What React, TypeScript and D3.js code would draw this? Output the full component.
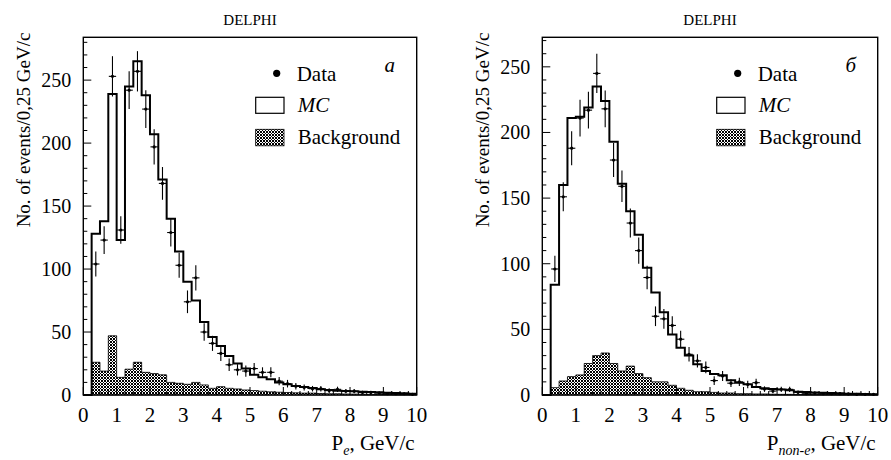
import React from "react";
import * as d3 from "d3";

// ---- data (40 bins of 0.25 GeV/c from 0 to 10) ----
const binWidth = 0.25;
const xTickLabels = ["0", "1", "2", "3", "4", "5", "6", "7", "8", "9", "10"];
const yTickLabels = ["0", "50", "100", "150", "200", "250"];

const leftMC = [0,128,138,239,123,245,265,238,207,171,140,114,90,75,58,46,39,31,25,21,16,14,12.5,10,8.5,7.2,6.3,5.6,4.5,4,3.4,3.2,2.9,2.6,2.4,2.1,1.8,1.5,1.3,1];
const leftBg = [0,26,19,47,14,20.5,26,18,17,16,10,9.3,8.5,10,8,5.3,6.6,5.3,4.8,4,3.5,3,2.5,2.2,2,1.7,1.5,1.5,1.2,1,1,0.8,0.7,0.6,0.5,0.5,0.4,0.3,0.3,0.2];
const leftData = [0,104,123,253,131,242,257,227,197,168,129,103,74,93,50,41,33,24,20,19,21,18,18,11,9,7,6,5,5,3.5,4.5,3,3,2,2,1.5,1,1,1,0.5];
const leftErr = [0,10,11,16,11,15,16,15,14,13,11,10,9,10,7,6,6,5,4.5,4.5,4.5,4,4,3.3,3,2.6,2.4,2.2,2.2,1.9,2.1,1.7,1.7,1.4,1.4,1.2,1,1,1,0.7];

const rightMC = [0,84,160,211,212,219,235,224,193,161,140,122,97,78,63,46,36,30,23.5,18.3,16,15,11.2,9.4,8.1,6.1,5.1,4.6,4.1,3.6,2.5,2.3,2,1.8,1.5,1.3,1,1,0.8,0.6];
const rightBg = [0,5.6,10.7,14,15.3,24,30,32,24,18.3,22,16.3,13.2,10,10,7.4,5.1,3.6,2.5,2.5,2,1.5,1.5,1,1,0.8,0.8,0.6,0.5,0.5,0.4,0.4,0.3,0.3,0.3,0.2,0.2,0.2,0.1,0.1];
const rightData = [0,96,151,188,211,217,245,218,179,159,131,110,89.5,60,58,53,42.5,31,26,21,11,14.5,9,10,8,9.4,4.5,3,4.3,4.3,2,1,1.5,1,1,1,0.8,0.5,0.5,0.5];
const rightErr = [0,10,11,13,14,14,15,14,13,12,11,10,9,7.5,7.5,7,6.5,5.5,5,4.5,3.3,3.8,3,3.2,2.8,3,2.1,1.7,2,2,1.4,1,1.2,1,1,1,0.9,0.7,0.7,0.7];

const FONT = "'Liberation Serif', 'Times New Roman', serif";

type PanelProps = {
  x0: number; x1: number; yTop: number; yBot: number; yMax: number;
  mc: number[]; bg: number[]; data: number[]; err: number[];
  tag: string; sub: string; id: string;
};

function Panel(p: PanelProps) {
  const x = d3.scaleLinear().domain([0, 10]).range([p.x0, p.x1]);
  const y = d3.scaleLinear().domain([0, p.yMax]).range([p.yBot, p.yTop]);

  const stepPts = (vals: number[]) => {
    const pts: [number, number][] = vals.map((v, i) => [i * binWidth, v]);
    pts.push([vals.length * binWidth, vals[vals.length - 1]]);
    return pts;
  };

  const line = d3.line<[number, number]>()
    .x(d => x(d[0])).y(d => y(d[1])).curve(d3.curveStepAfter);
  const area = d3.area<[number, number]>()
    .x(d => x(d[0])).y0(y(0)).y1(d => y(d[1])).curve(d3.curveStepAfter);

  const mcPath = line(stepPts(p.mc));
  const bgPath = area(stepPts(p.bg));

  const yMinor = d3.range(0, p.yMax, 10);
  const xMinor = d3.range(0, 10.001, 0.25);

  const legX = p.x1 - 161;
  const legT = p.x1 - 120;
  const cx = (p.x0 + p.x1) / 2;

  return (
    <g>
      <text x={cx} y={25} textAnchor="middle" fontFamily={FONT} fontSize={15}>DELPHI</text>
      {/* background hatched */}
      <path d={bgPath || ""} fill={`url(#hatch-${p.id})`} stroke="#000" strokeWidth={0.8} />
      {/* MC outline */}
      <path d={mcPath || ""} fill="none" stroke="#000" strokeWidth={2} />
      {/* data points */}
      {p.data.map((v, i) => {
        if (v <= 0) return null;
        const c = (i + 0.5) * binWidth;
        return (
          <g key={i} stroke="#000" strokeWidth={1.1}>
            <line x1={x(c)} x2={x(c)} y1={y(v - p.err[i])} y2={y(v + p.err[i])} />
            <line x1={x(c - 0.11)} x2={x(c + 0.11)} y1={y(v)} y2={y(v)} />
            <circle cx={x(c)} cy={y(v)} r={1.6} fill="#000" stroke="none" />
          </g>
        );
      })}
      {/* frame */}
      <rect x={p.x0} y={p.yTop} width={p.x1 - p.x0} height={p.yBot - p.yTop} fill="none" stroke="#000" strokeWidth={1.4} />
      {/* y ticks */}
      {yMinor.map(t => (
        <line key={"y" + t} x1={p.x0} x2={p.x0 + (t % 50 === 0 ? 8 : 4)} y1={y(t)} y2={y(t)} stroke="#000" strokeWidth={1} />
      ))}
      {yTickLabels.map(t => (
        <text key={"yl" + t} x={p.x0 - 12} y={y(+t)} dy="0.35em" textAnchor="end" fontFamily={FONT} fontSize={20}>{t}</text>
      ))}
      {/* x ticks */}
      {xMinor.map(t => (
        <line key={"x" + t} x1={x(t)} x2={x(t)} y1={p.yBot} y2={p.yBot - (Math.abs(t - Math.round(t)) < 1e-6 ? 8 : 4)} stroke="#000" strokeWidth={1} />
      ))}
      {xTickLabels.map(t => (
        <text key={"xl" + t} x={x(+t)} y={421.5} textAnchor="middle" fontFamily={FONT} fontSize={21}>{t}</text>
      ))}
      {/* axis titles */}
      <text transform={`translate(${p.x0 - 53},130) rotate(-90)`} textAnchor="middle" fontFamily={FONT} fontSize={19}>No. of events/0,25 GeV/c</text>
      <text x={p.x1 - 2} y={450} textAnchor="end" fontFamily={FONT} fontSize={21}>
        P<tspan fontSize={14} fontStyle="italic" dy={5}>{p.sub}</tspan><tspan dy={-5}>, GeV/c</tspan>
      </text>
      {/* legend */}
      <circle cx={legX + 21} cy={73.3} r={3.6} fill="#000" />
      <text x={legT} y={80.7} fontFamily={FONT} fontSize={21}>Data</text>
      <rect x={legX} y={97.3} width={28.3} height={16} fill="#fff" stroke="#000" strokeWidth={1.2} />
      <text x={legT + 1} y={112.3} fontFamily={FONT} fontSize={21} fontStyle="italic">MC</text>
      <rect x={legX} y={129.3} width={28.3} height={16.5} fill={`url(#hatch-${p.id})`} stroke="#000" strokeWidth={0.8} />
      <text x={legT + 1} y={144.3} fontFamily={FONT} fontSize={21}>Background</text>
      <text x={p.x1 - 27} y={71.7} textAnchor="middle" fontFamily={FONT} fontSize={21} fontStyle="italic">{p.tag}</text>
    </g>
  );
}

export default function App() {
  return (
    <svg width={891} height={460} style={{ position: "absolute", left: 0, top: 0, background: "#fff" }}>
      <defs>
        {["l", "r"].map(id => (
          <pattern key={id} id={`hatch-${id}`} patternUnits="userSpaceOnUse" width={3} height={3}>
            <rect width={3} height={3} fill="#fff" />
            <path d="M0,0 L3,3 M3,0 L0,3" stroke="#000" strokeWidth={1} />
          </pattern>
        ))}
      </defs>
      <rect width={891} height={460} fill="#fff" />
      <Panel id="l" x0={83.3} x1={416.7} yTop={37.3} yBot={395} yMax={284}
        mc={leftMC} bg={leftBg} data={leftData} err={leftErr} tag="a" sub="e" />
      <Panel id="r" x0={542.3} x1={877.7} yTop={37.3} yBot={395} yMax={272.5}
        mc={rightMC} bg={rightBg} data={rightData} err={rightErr} tag="б" sub="non-e" />
    </svg>
  );
}
